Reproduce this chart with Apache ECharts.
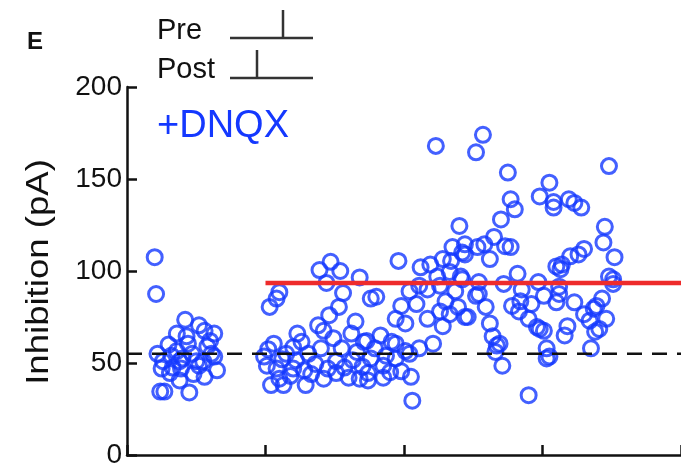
<!DOCTYPE html>
<html>
<head>
<meta charset="utf-8">
<script src="https://cdn.jsdelivr.net/npm/echarts@6/dist/echarts.min.js"></script>
<style>
  html, body { margin: 0; padding: 0; background: #fff; }
  #chart { width: 681px; height: 469px; }
</style>
</head>
<body>
<div id="chart"></div>
<script>
// control recordings (left cluster)
var controlPoints = [
  [0.20,107.5],[0.21,87.5],[0.42,73.5],[0.52,70.5],[0.36,66],[0.56,67.5],[0.63,66],[0.43,64.5],
  [0.44,60.5],[0.22,55],[0.32,54],[0.61,55],[0.63,53.5],[0.26,51],[0.38,51],[0.50,51],[0.25,47],
  [0.39,47],[0.65,46],[0.31,44.5],[0.56,42.5],[0.38,40.5],[0.24,34.5],[0.27,34.5],[0.45,34],
  [0.58,59],[0.36,56.5],[0.52,48.5],[0.40,52.5],[0.30,60],[0.47,55],[0.55,51],[0.33,47.5],
  [0.48,44],[0.60,62]
];

// +DNQX recordings
var dnqxPoints = [
  [1.47,105],[1.39,100.5],[1.54,100],[1.68,96.5],[1.44,93.5],[1.10,88.5],[1.08,85],[1.03,80.5],
  [1.56,88],[1.53,80.5],[1.46,76],[1.38,70.5],[1.42,67.5],[1.65,72.5],[1.62,66],[1.49,63.5],
  [1.23,66],[1.26,61.5],[1.06,60.5],[1.71,61.5],[0.99,53.5],[1.15,55],[1.01,48.5],[1.08,47],
  [1.22,51.5],[1.36,49.5],[1.51,51],[1.63,51.5],[1.28,46],[1.18,43],[1.10,41.5],[1.42,41.5],
  [1.51,44.5],[1.04,38],[1.13,38],[1.29,38],[1.68,41.5],[1.74,40.5],
  [1.12,52],[1.20,47],[1.33,44],[1.45,47],[1.57,47.5],[1.60,42],[1.31,55],[1.40,58],[1.20,58.5],
  [1.55,58],[1.66,56],[1.02,57.5],[1.85,42],[1.90,45],[1.70,48],
  [2.23,168],[2.40,124.5],[1.96,105.5],[2.35,113],[2.42,110],[2.12,102],[2.19,103.5],[2.28,106.5],
  [2.34,105.5],[2.24,97],[2.33,99.5],[2.41,97],[2.04,89],[2.11,92],[2.17,90],[2.26,92],[2.37,89],
  [1.76,85],[1.80,86],[1.98,81],[2.09,82],[2.30,83.5],[2.39,80.5],[1.94,74],[2.17,74],[2.26,78],
  [2.33,76.5],[2.44,75],[2.01,71.5],[2.28,70],[1.83,65],[1.73,62],[1.91,61.5],[2.21,60.5],[1.79,58],
  [1.87,54],[2.01,56.5],[2.11,58],[1.76,52.5],[1.94,52.5],[2.04,55],[1.85,48.5],[1.74,44.5],
  [1.98,45.5],[2.05,42.5],[2.06,29.5],[1.94,60.5],
  [2.57,174],[2.52,164.5],[2.75,153.5],[3.05,148],[2.98,140.5],[3.08,137.5],[3.08,134.5],[2.77,139],
  [2.80,133.5],[2.70,128],[2.65,118.5],[2.58,114.5],[2.53,113],[2.73,113.5],[2.77,113],[2.44,114.5],
  [2.44,109],[2.62,106.5],[2.82,98.5],[3.10,102.5],[2.42,95.5],[2.54,94],[2.72,93],[2.97,94],
  [2.85,90],[2.52,86.5],[3.01,86.5],[3.12,87.5],[2.78,81],[2.84,83.5],[2.59,80.5],[2.92,82],
  [2.46,75],[2.83,78],[2.90,74],[2.62,71.5],[2.96,69.5],[3.01,67.5],[2.64,64.5],[2.69,60.5],
  [2.66,56],[3.03,58],[2.71,48.5],[3.03,52.5],[2.90,32.5],[2.67,59.5],[2.54,87.5],[2.98,68.5],
  [3.48,157],[3.19,139],[3.23,137],[3.28,134.5],[3.45,124],[3.44,115.5],[3.52,107.5],[3.30,112],
  [3.26,109],[3.20,108],[3.14,103.5],[3.13,101],[3.48,97],[3.51,93],[3.51,95.5],[3.12,91.5],
  [3.10,83],[3.23,83],[3.43,85],[3.39,81],[3.30,76.5],[3.46,74],[3.34,73],[3.41,68.5],[3.18,70],
  [3.16,65],[3.38,67],[3.35,58],[3.05,53.5],[3.37,79.5]
];

var controlMean = 55;   // dashed line
var dnqxMean = 93.5;    // red line
var xStart = 0, dnqxStart = 1, xEnd = 4;
var yTicks = [0, 50, 100, 150, 200];

var font = 'Liberation Sans, Arial, Helvetica, sans-serif';
var blue = '#1438ff';

var myChart = echarts.init(document.getElementById('chart'));

var option = {
  animation: false,
  grid: { left: 127, top: 87, bottom: 12, right: -4 },
  xAxis: {
    type: 'value',
    min: xStart,
    max: xEnd,
    interval: 1,
    axisLine: { lineStyle: { color: '#111', width: 2.5 } },
    axisTick: { inside: true, length: 10, lineStyle: { color: '#111', width: 2.5 } },
    axisLabel: { show: false },
    splitLine: { show: false }
  },
  yAxis: {
    type: 'value',
    min: yTicks[0],
    max: yTicks[yTicks.length - 1],
    interval: 50,
    axisLine: { show: true, lineStyle: { color: '#111', width: 2.5 } },
    axisTick: { show: true, inside: true, length: 10, lineStyle: { color: '#111', width: 2.5 } },
    axisLabel: { margin: 5, fontSize: 28, fontFamily: font, color: '#111' },
    splitLine: { show: false }
  },
  series: [
    {
      type: 'scatter',
      data: controlPoints,
      symbol: 'circle',
      symbolSize: 15,
      itemStyle: { color: 'rgba(0,0,0,0)', borderColor: blue, borderWidth: 3 },
      z: 2
    },
    {
      type: 'scatter',
      data: dnqxPoints,
      symbol: 'circle',
      symbolSize: 15,
      itemStyle: { color: 'rgba(0,0,0,0)', borderColor: blue, borderWidth: 3 },
      z: 2
    },
    {
      type: 'line',
      data: [[xStart, controlMean], [xEnd, controlMean]],
      symbol: 'none',
      lineStyle: { color: '#111', width: 2.5, type: [15, 10] },
      z: 3
    },
    {
      type: 'line',
      data: [[dnqxStart, dnqxMean], [xEnd, dnqxMean]],
      symbol: 'none',
      lineStyle: { color: '#ee2b2b', width: 4.5 },
      z: 4
    }
  ],
  graphic: [
    { type: 'text', x: 27, y: 42, style: { text: 'E', font: 'bold 24px ' + font, fill: '#111', verticalAlign: 'middle' } },
    { type: 'text', x: 157, y: 31, style: { text: 'Pre', font: '29px ' + font, fill: '#111', verticalAlign: 'middle' } },
    { type: 'text', x: 157, y: 70, style: { text: 'Post', font: '29px ' + font, fill: '#111', verticalAlign: 'middle' } },
    { type: 'polyline', shape: { points: [[230, 38], [313, 38]] }, style: { stroke: '#333', lineWidth: 2.5 } },
    { type: 'polyline', shape: { points: [[283, 38], [283, 10]] }, style: { stroke: '#333', lineWidth: 2.5 } },
    { type: 'polyline', shape: { points: [[230, 78], [313, 78]] }, style: { stroke: '#333', lineWidth: 2.5 } },
    { type: 'polyline', shape: { points: [[257, 78], [257, 50]] }, style: { stroke: '#333', lineWidth: 2.5 } },
    { type: 'text', x: 157, y: 127, style: { text: '+DNQX', font: '38px ' + font, fill: blue, verticalAlign: 'middle' } },
    {
      type: 'text', x: 39, y: 272, rotation: Math.PI / 2, scaleX: 1.18,
      style: { text: 'Inhibition (pA)', font: '31px ' + font, fill: '#111', align: 'center', verticalAlign: 'middle' }
    }
  ]
};

myChart.setOption(option);
</script>
</body>
</html>
